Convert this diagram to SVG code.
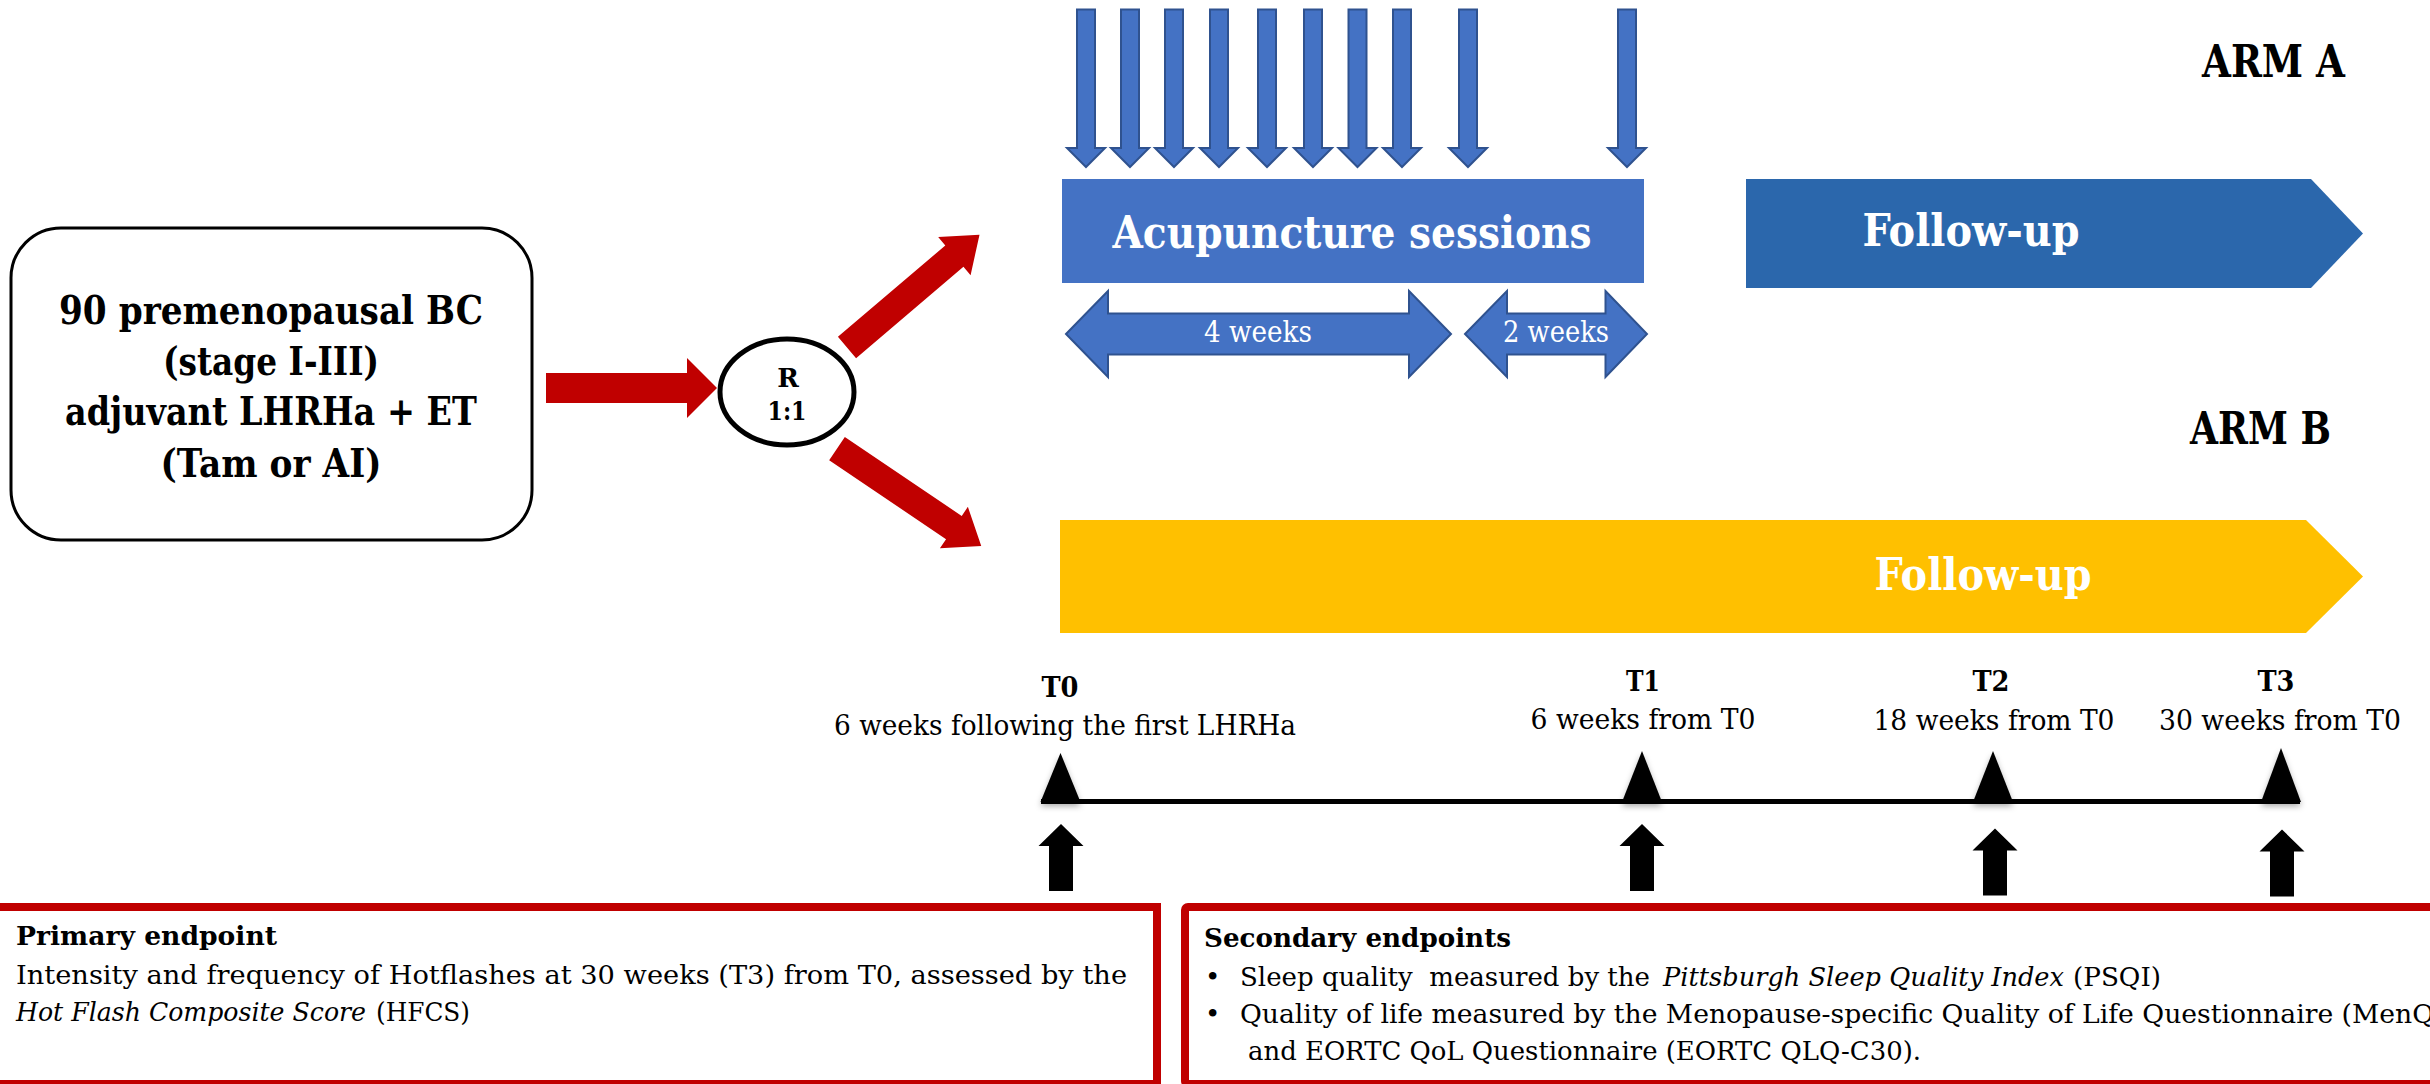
<svg xmlns="http://www.w3.org/2000/svg" width="2430" height="1084" viewBox="0 0 2430 1084">
<style>
text{font-family:"DejaVu Serif","Liberation Serif",serif;fill:#000}
.b{font-weight:bold}
.i{font-style:italic}
.w{fill:#fff}
.red{fill:#C00000}
.blue{fill:#4472C4;stroke:#2F528F;stroke-width:2}
.blk{fill:#000}
.box{fill:none;stroke:#C00000;stroke-width:8}
</style>
<defs>
<path id="down" d="M-9,9.5 H9 V148 H19 L0,167 L-19,148 H-9 Z"/>
<path id="up" d="M0,0 L22.5,22 H12 V67 H-12 V22 H-22.5 Z"/>
<path id="diag" d="M0,-14 H141 V-25 L174,0 L141,25 V14 H0 Z"/>
<filter id="sh" x="-50%" y="-50%" width="200%" height="200%"><feDropShadow dx="0" dy="4" stdDeviation="3" flood-color="#000" flood-opacity="0.35"/></filter>
</defs>

<g id="start">
<rect x="11" y="228" width="521" height="312" rx="50" fill="#fff" stroke="#000" stroke-width="3"/>
<text class="b" x="271" y="324" font-size="39.5" text-anchor="middle" textLength="424" lengthAdjust="spacingAndGlyphs">90 premenopausal BC</text>
<text class="b" x="271" y="375" font-size="39.5" text-anchor="middle" textLength="216" lengthAdjust="spacingAndGlyphs">(stage I-III)</text>
<text class="b" x="271" y="425" font-size="39.5" text-anchor="middle" textLength="412" lengthAdjust="spacingAndGlyphs">adjuvant LHRHa + ET</text>
<text class="b" x="271" y="477" font-size="39.5" text-anchor="middle" textLength="221" lengthAdjust="spacingAndGlyphs">(Tam or AI)</text>
</g>

<g id="randomize">
<ellipse cx="787" cy="392" rx="67" ry="53" fill="#fff" stroke="#000" stroke-width="5"/>
<text class="b" x="788" y="387" font-size="26" text-anchor="middle">R</text>
<text class="b" x="787" y="420" font-size="26" text-anchor="middle" textLength="39" lengthAdjust="spacingAndGlyphs">1:1</text>
</g>

<g id="connectors">
<polygon class="red" points="546,373 687,373 687,358 717,388 687,418 687,403 546,403"/>
<use href="#diag" class="red" transform="translate(847,347.5) rotate(-40.4)"/>
<use href="#diag" class="red" transform="translate(837,448.7) rotate(34)"/>
</g>

<g id="sessions-arrows">
<use href="#down" class="blue" x="1086"/>
<use href="#down" class="blue" x="1130"/>
<use href="#down" class="blue" x="1174"/>
<use href="#down" class="blue" x="1219"/>
<use href="#down" class="blue" x="1267"/>
<use href="#down" class="blue" x="1313"/>
<use href="#down" class="blue" x="1357.5"/>
<use href="#down" class="blue" x="1402"/>
<use href="#down" class="blue" x="1468"/>
<use href="#down" class="blue" x="1627"/>
</g>

<g id="arm-a-label">
<text class="b" x="2202" y="77" font-size="45" textLength="143" lengthAdjust="spacingAndGlyphs">ARM A</text>
</g>

<g id="acupuncture">
<rect x="1062" y="179" width="582" height="104" fill="#4472C4"/>
<text class="b w" x="1352" y="248" font-size="45" text-anchor="middle" textLength="479" lengthAdjust="spacingAndGlyphs">Acupuncture sessions</text>
</g>

<g id="four-weeks">
<polygon class="blue" points="1066,334 1108,291 1108,313.5 1409,313.5 1409,291 1451,334 1409,377 1409,354.5 1108,354.5 1108,377"/>
<text class="w" x="1258" y="342" font-size="29" text-anchor="middle" textLength="108" lengthAdjust="spacingAndGlyphs">4 weeks</text>
</g>

<g id="two-weeks">
<polygon class="blue" points="1465,334 1507,291 1507,313.5 1605.5,313.5 1605.5,291 1647,334 1605.5,377 1605.5,354.5 1507,354.5 1507,377"/>
<text class="w" x="1556" y="342" font-size="29" text-anchor="middle" textLength="106" lengthAdjust="spacingAndGlyphs">2 weeks</text>
</g>

<g id="followup-a">
<polygon points="1746,179 2311,179 2363,233.5 2311,288 1746,288" fill="#2B67AC"/>
<text class="b w" x="1971" y="246" font-size="45" text-anchor="middle" textLength="217" lengthAdjust="spacingAndGlyphs">Follow-up</text>
</g>

<g id="arm-b-label">
<text class="b" x="2190" y="444" font-size="45" textLength="141" lengthAdjust="spacingAndGlyphs">ARM B</text>
</g>

<g id="followup-b">
<polygon points="1060,520 2306,520 2363,576.5 2306,633 1060,633" fill="#FFC000"/>
<text class="b w" x="1983" y="590" font-size="45" text-anchor="middle" textLength="217" lengthAdjust="spacingAndGlyphs">Follow-up</text>
</g>

<g id="timeline">
<line x1="1041" y1="801.5" x2="2300" y2="801.5" stroke="#000" stroke-width="5"/>
<g filter="url(#sh)">
<polygon class="blk" points="1060.5,753 1080.5,802 1040.5,802"/>
<polygon class="blk" points="1642,751 1662,802 1622,802"/>
<polygon class="blk" points="1993,751 2013,802 1973,802"/>
<polygon class="blk" points="2281,748 2301,802 2261,802"/>
</g>
</g>

<g id="t0">
<text class="b" x="1060" y="697" font-size="28.5" text-anchor="middle" textLength="37" lengthAdjust="spacingAndGlyphs">T0</text>
<text x="1065" y="735" font-size="28.5" text-anchor="middle" textLength="462" lengthAdjust="spacingAndGlyphs">6 weeks following the first LHRHa</text>
<use href="#up" class="blk" x="1061" y="824"/>
</g>
<g id="t1">
<text class="b" x="1643" y="691" font-size="28.5" text-anchor="middle" textLength="34" lengthAdjust="spacingAndGlyphs">T1</text>
<text x="1643" y="729" font-size="28.5" text-anchor="middle" textLength="225" lengthAdjust="spacingAndGlyphs">6 weeks from T0</text>
<use href="#up" class="blk" x="1642" y="824"/>
</g>
<g id="t2">
<text class="b" x="1991" y="691" font-size="28.5" text-anchor="middle" textLength="37" lengthAdjust="spacingAndGlyphs">T2</text>
<text x="1994" y="730" font-size="28.5" text-anchor="middle" textLength="241" lengthAdjust="spacingAndGlyphs">18 weeks from T0</text>
<use href="#up" class="blk" x="1995" y="828.5"/>
</g>
<g id="t3">
<text class="b" x="2276" y="691" font-size="28.5" text-anchor="middle" textLength="37" lengthAdjust="spacingAndGlyphs">T3</text>
<text x="2280" y="730" font-size="28.5" text-anchor="middle" textLength="242" lengthAdjust="spacingAndGlyphs">30 weeks from T0</text>
<use href="#up" class="blk" x="2282" y="829.5"/>
</g>

<g id="primary">
<rect class="box" x="-10" y="907" width="1167" height="177"/>
<text class="b" x="16" y="945" font-size="26" textLength="261" lengthAdjust="spacingAndGlyphs">Primary endpoint</text>
<text x="16" y="984" font-size="26" textLength="1111" lengthAdjust="spacingAndGlyphs">Intensity and frequency of Hotflashes at 30 weeks (T3) from T0, assessed by the</text>
<text class="i" x="16" y="1021" font-size="26" textLength="350" lengthAdjust="spacingAndGlyphs">Hot Flash Composite Score</text>
<text x="376" y="1021" font-size="26" textLength="94" lengthAdjust="spacingAndGlyphs">(HFCS)</text>
</g>

<g id="secondary">
<rect class="box" x="1185" y="907" width="1300" height="177" rx="3"/>
<text class="b" x="1204" y="947" font-size="26" textLength="307" lengthAdjust="spacingAndGlyphs">Secondary endpoints</text>
<text x="1205" y="986" font-size="26">•</text>
<text x="1240" y="986" font-size="26" xml:space="preserve" textLength="410" lengthAdjust="spacingAndGlyphs">Sleep quality  measured by the</text>
<text class="i" x="1663" y="986" font-size="26" textLength="401" lengthAdjust="spacingAndGlyphs">Pittsburgh Sleep Quality Index</text>
<text x="2073" y="986" font-size="26" textLength="88" lengthAdjust="spacingAndGlyphs">(PSQI)</text>
<text x="1205" y="1023" font-size="26">•</text>
<text x="1240" y="1023" font-size="26" textLength="1194" lengthAdjust="spacingAndGlyphs">Quality of life measured by the Menopause-specific Quality of Life Questionnaire (MenQ</text>
<text x="1248" y="1060" font-size="26" textLength="673" lengthAdjust="spacingAndGlyphs">and EORTC QoL Questionnaire (EORTC QLQ-C30).</text>
</g>
</svg>
